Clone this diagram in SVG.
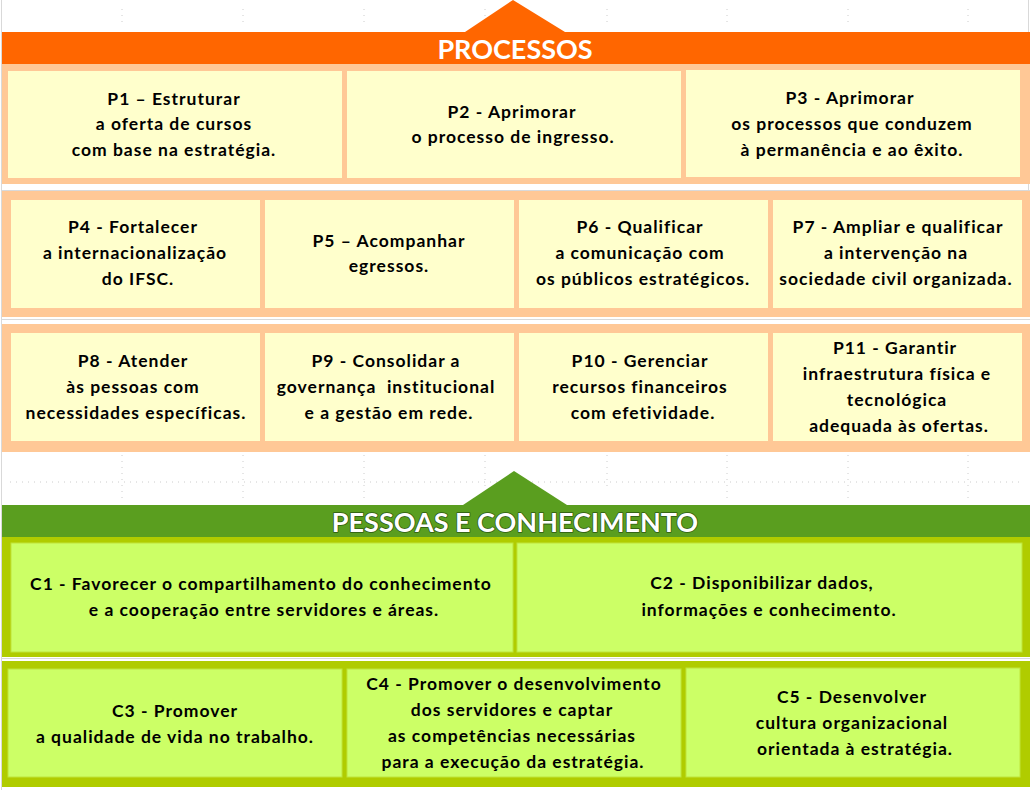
<svg xmlns="http://www.w3.org/2000/svg" width="1030" height="798" viewBox="0 0 1030 798">
<style>
.bg{fill:#ffffff}
.grid{stroke:#cccccc;stroke-width:1;stroke-dasharray:1 5;fill:none}
.sep{stroke:#d9d9d9;stroke-width:1}
.ohead{fill:#ff6600}
.oband{fill:#ffc896}
.obox{fill:#ffffcc}
.ghead{fill:#5a9e1f}
.gband{fill:#b0cc00}
.gbox{fill:#ccff66;stroke:#bfe43a;stroke-width:1}
.t{font-family:Lato,"Liberation Sans",sans-serif;font-weight:700;font-size:17.5px;letter-spacing:1px;fill:#000;text-anchor:middle}
.h{font-family:Lato,"Liberation Sans",sans-serif;font-weight:700;font-size:27px;fill:#fff;text-anchor:middle}
.hg{stroke:#2d5a12;stroke-width:1.6;paint-order:stroke;stroke-linejoin:round}
</style>
<rect class="bg" x="0" y="0" width="1030" height="798"/>
<g id="grid">
<path class="grid" d="M122 9V22M243 9V22M364 9V22M485 9V22M607 9V22M727 9V22M848 9V22M968 9V22"/>
<path class="grid" d="M10 482H1020M122 455V498M243 455V498M364 455V498M485 455V490M607 455V490M727 455V498M848 455V498M968 455V498"/>
<path class="sep" d="M1.5 0V790M1028.5 0V190M2 190.5H1030M2 319.5H1030M2 658.5H1030"/>
</g>
<g id="processos-header">
<polygon class="ohead" points="465,32 513,0 565,32"/>
<rect class="ohead" x="2" y="32" width="1028" height="32"/>
<text class="h" x="515" y="59">PROCESSOS</text>
</g>
<g id="processos-bands">
<rect class="oband" x="2" y="64" width="1028" height="120"/>
<rect class="oband" x="2" y="191" width="1028" height="126"/>
<rect class="oband" x="2" y="324" width="1028" height="128"/>
</g>
<g id="P1"><rect class="obox" x="8" y="71" width="334" height="107"/>
<text class="t" x="174" y="105">P1 – Estruturar</text><text class="t" x="174" y="130">a oferta de cursos</text><text class="t" x="174" y="156">com base na estratégia.</text></g>
<g id="P2"><rect class="obox" x="347" y="71" width="334" height="107"/>
<text class="t" x="512" y="118">P2 - Aprimorar</text><text class="t" x="513" y="143">o processo de ingresso.</text></g>
<g id="P3"><rect class="obox" x="686" y="70" width="334" height="107"/>
<text class="t" x="850" y="104">P3 - Aprimorar</text><text class="t" x="852" y="130">os processos que conduzem</text><text class="t" x="852" y="156">à permanência e ao êxito.</text></g>
<g id="P4"><rect class="obox" x="11" y="200" width="249" height="108"/>
<text class="t" x="133" y="233">P4 - Fortalecer</text><text class="t" x="135" y="259">a internacionalização</text><text class="t" x="138" y="285">do IFSC.</text></g>
<g id="P5"><rect class="obox" x="265" y="200" width="249" height="108"/>
<text class="t" x="389" y="247">P5 – Acompanhar</text><text class="t" x="389" y="272">egressos.</text></g>
<g id="P6"><rect class="obox" x="519" y="200" width="249" height="108"/>
<text class="t" x="640" y="233">P6 - Qualificar</text><text class="t" x="640" y="259">a comunicação com</text><text class="t" x="643" y="285">os públicos estratégicos.</text></g>
<g id="P7"><rect class="obox" x="773" y="200" width="249" height="108"/>
<text class="t" x="898" y="233">P7 - Ampliar e qualificar</text><text class="t" x="896" y="259">a intervenção na</text><text class="t" x="896" y="285">sociedade civil organizada.</text></g>
<g id="P8"><rect class="obox" x="11" y="333" width="249" height="108"/>
<text class="t" x="133" y="367">P8 - Atender</text><text class="t" x="133" y="393">às pessoas com</text><text class="t" x="136" y="419">necessidades específicas.</text></g>
<g id="P9"><rect class="obox" x="265" y="333" width="249" height="108"/>
<text class="t" x="386" y="367">P9 - Consolidar a</text><text class="t" x="386" y="393" style="white-space:pre">governança  institucional</text><text class="t" x="389" y="419">e a gestão em rede.</text></g>
<g id="P10"><rect class="obox" x="519" y="333" width="249" height="108"/>
<text class="t" x="640" y="367">P10 - Gerenciar</text><text class="t" x="640" y="393">recursos financeiros</text><text class="t" x="643" y="419">com efetividade.</text></g>
<g id="P11"><rect class="obox" x="773" y="333" width="249" height="108"/>
<text class="t" x="895" y="354">P11 - Garantir</text><text class="t" x="897" y="380">infraestrutura física e</text><text class="t" x="897" y="406">tecnológica</text><text class="t" x="899" y="432">adequada às ofertas.</text></g>
<g id="pessoas-header">
<polygon class="ghead" points="463,505 514,471 567,505"/>
<rect class="ghead" x="2" y="505" width="1028" height="32"/>
<text class="h hg" x="515" y="532">PESSOAS E CONHECIMENTO</text>
</g>
<g id="pessoas-bands">
<rect class="gband" x="2" y="537" width="1028" height="120"/>
<rect class="gband" x="2" y="661" width="1028" height="126"/>
</g>
<g id="C1"><rect class="gbox" x="11" y="543" width="502" height="109"/>
<text class="t" x="261" y="590">C1 - Favorecer o compartilhamento do conhecimento</text><text class="t" x="264" y="616">e a cooperação entre servidores e áreas.</text></g>
<g id="C2"><rect class="gbox" x="517" y="543" width="505" height="109"/>
<text class="t" x="762" y="589">C2 - Disponibilizar dados,</text><text class="t" x="769" y="616">informações e conhecimento.</text></g>
<g id="C3"><rect class="gbox" x="8" y="669" width="334" height="108"/>
<text class="t" x="175" y="717">C3 - Promover</text><text class="t" x="175" y="743">a qualidade de vida no trabalho.</text></g>
<g id="C4"><rect class="gbox" x="347" y="669" width="334" height="108"/>
<text class="t" x="514" y="690">C4 - Promover o desenvolvimento</text><text class="t" x="512" y="716">dos servidores e captar</text><text class="t" x="512" y="742">as competências necessárias</text><text class="t" x="513" y="768">para a execução da estratégia.</text></g>
<g id="C5"><rect class="gbox" x="686" y="668" width="334" height="109"/>
<text class="t" x="852" y="703">C5 - Desenvolver</text><text class="t" x="852" y="729">cultura organizacional</text><text class="t" x="855" y="755">orientada à estratégia.</text></g>
<g id="connectors"/>
</svg>
